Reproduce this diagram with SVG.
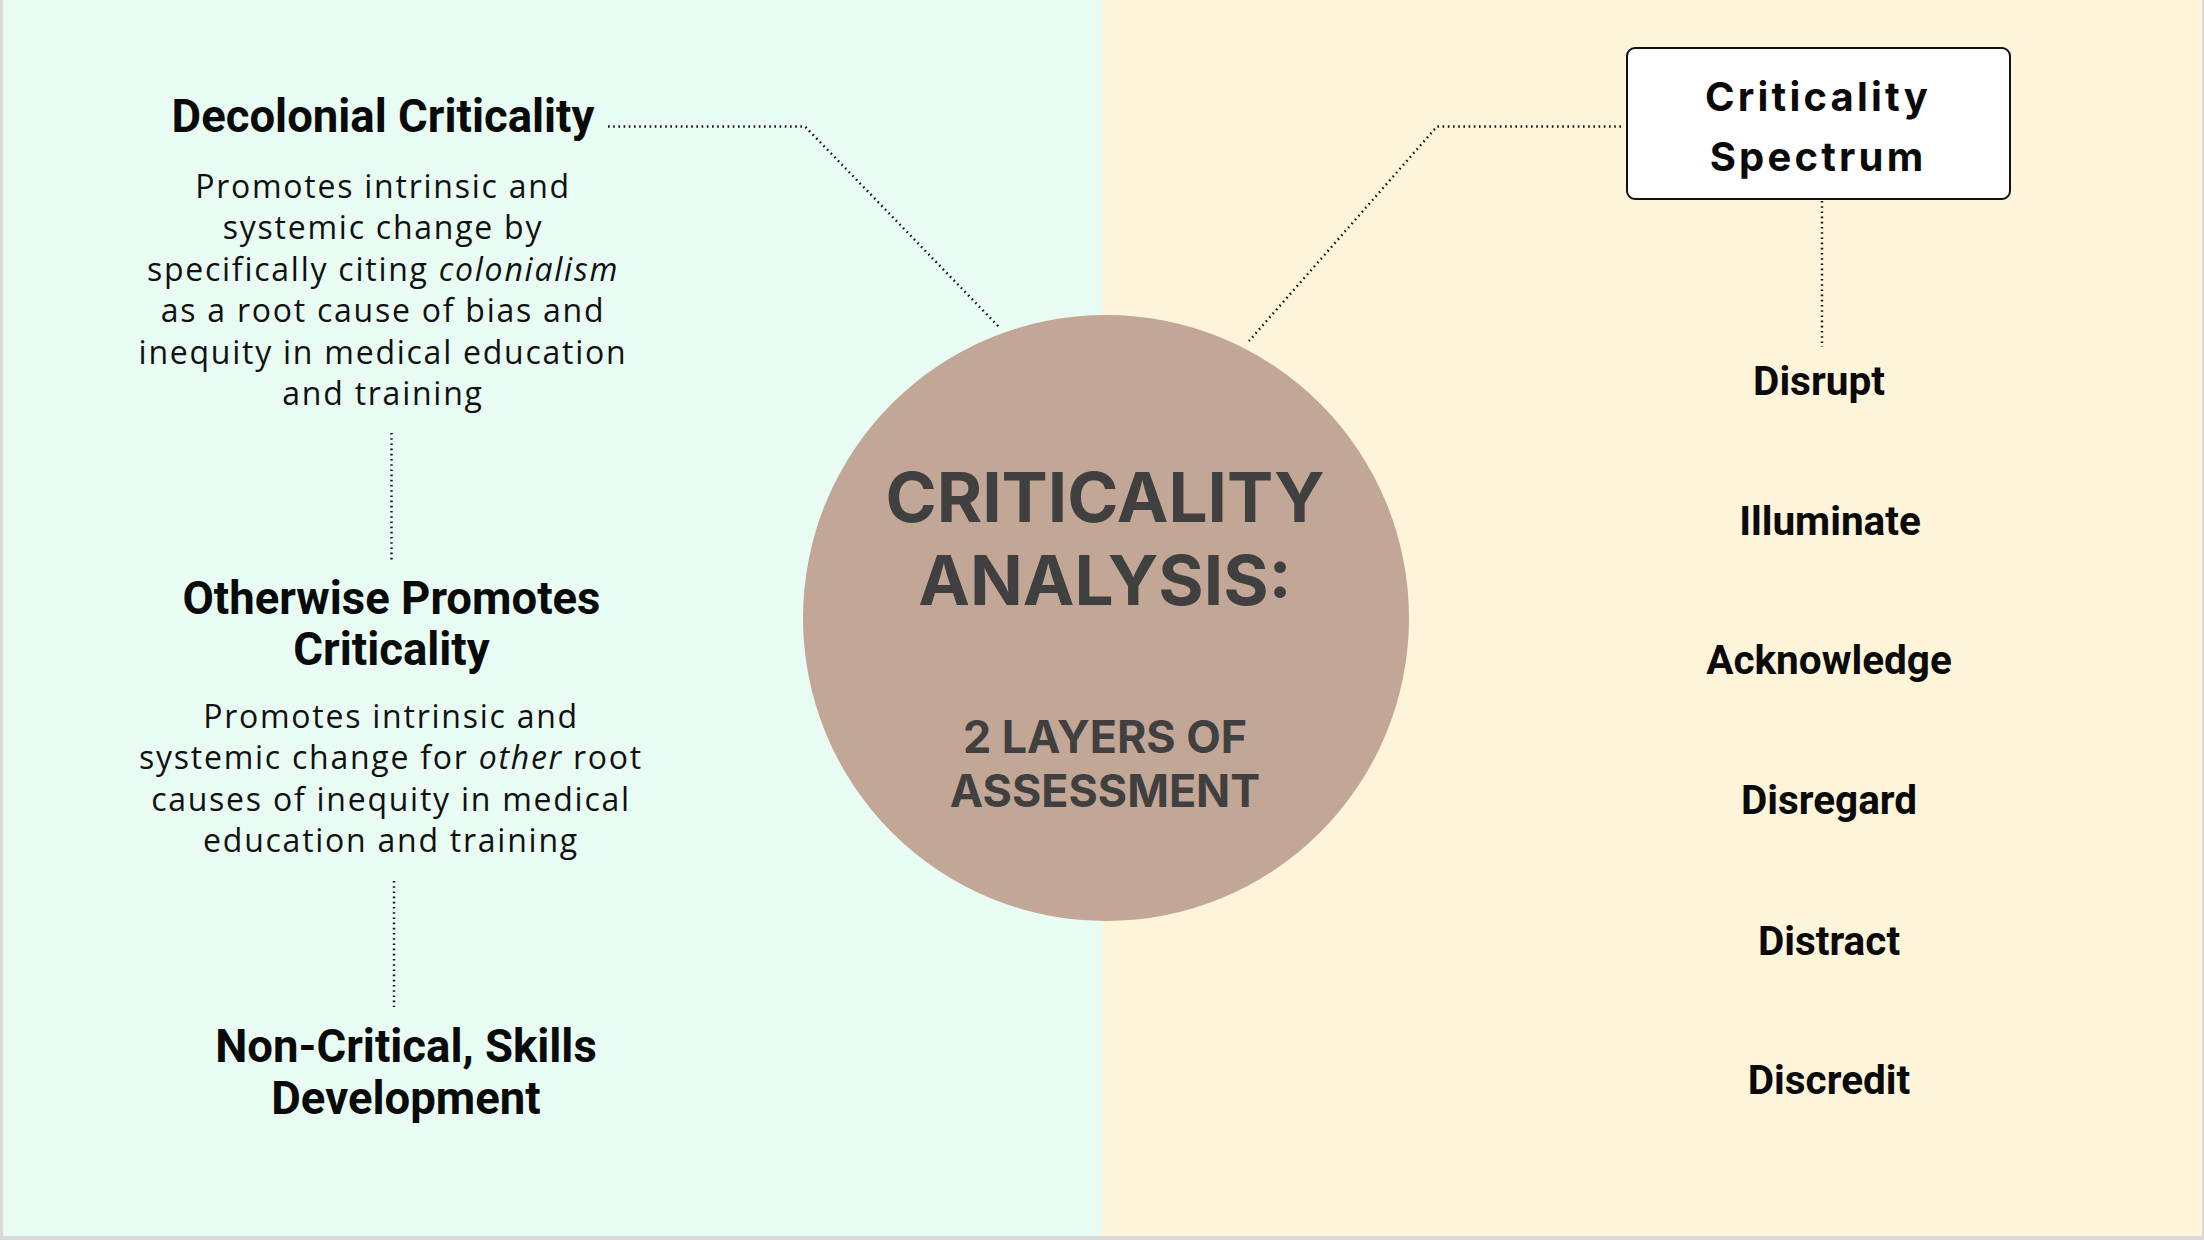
<svg xmlns="http://www.w3.org/2000/svg" width="2204" height="1240" viewBox="0 0 2204 1240">
<style>
.hd{font-family:Roboto,"Liberation Sans",sans-serif;font-weight:700;fill:#0a0a0a;text-anchor:middle;font-size:45.5px}
.bd{font-family:"Open Sans","Liberation Sans",sans-serif;font-weight:400;fill:#111;text-anchor:middle;font-size:32px;letter-spacing:1.75px}
.it{font-style:italic}
.ct{font-family:Inter,"Liberation Sans",sans-serif;font-weight:700;fill:#404040;text-anchor:middle}
.bx{font-family:Inter,"Liberation Sans",sans-serif;font-weight:700;fill:#0a0a0a;text-anchor:middle;font-size:40px;letter-spacing:3.2px}
.li{font-family:Roboto,"Liberation Sans",sans-serif;font-weight:700;fill:#0a0a0a;text-anchor:middle;font-size:40.5px}
.dot{fill:none;stroke:#111;stroke-width:2.4;stroke-dasharray:1.6 3.6}
</style>
<rect x="0" y="0" width="2204" height="1240" fill="#d9d9d9"/>
<rect x="3" y="0" width="1100" height="1236" fill="#e8fcf3"/>
<rect x="1102" y="0" width="1100" height="1236" fill="#fdf4d9"/>
<g id="connectors">
<polyline class="dot" points="608,126.5 805,126.5 1000,328"/>
<polyline class="dot" points="1621,126.5 1437,126.5 1249,341"/>
<line class="dot" x1="391.5" y1="433" x2="391.5" y2="561"/>
<line class="dot" x1="394" y1="881" x2="394" y2="1007"/>
<line class="dot" x1="1822" y1="201" x2="1822" y2="347"/>
</g>
<g id="center">
<circle cx="1106" cy="618" r="303" fill="#c2a696"/>
<text class="ct" x="1105" y="522" font-size="69.3">CRITICALITY</text>
<text class="ct" x="1105" y="605" font-size="69.3">ANALYSIS:</text>
<text class="ct" x="1105" y="753" font-size="44.8">2 LAYERS OF</text>
<text class="ct" x="1105" y="807" font-size="44.8">ASSESSMENT</text>
</g>
<g id="decolonial">
<text class="hd" x="383" y="132">Decolonial Criticality</text>
<text class="bd" x="383" y="198">Promotes intrinsic and</text>
<text class="bd" x="383" y="239">systemic change by</text>
<text class="bd" x="383" y="281">specifically citing <tspan class="it">colonialism</tspan></text>
<text class="bd" x="383" y="322">as a root cause of bias and</text>
<text class="bd" x="383" y="364">inequity in medical education</text>
<text class="bd" x="383" y="405">and training</text>
</g>
<g id="otherwise">
<text class="hd" x="391.5" y="614">Otherwise Promotes</text>
<text class="hd" x="391.5" y="665">Criticality</text>
<text class="bd" x="391" y="728">Promotes intrinsic and</text>
<text class="bd" x="391" y="769">systemic change for <tspan class="it">other</tspan> root</text>
<text class="bd" x="391" y="811">causes of inequity in medical</text>
<text class="bd" x="391" y="852">education and training</text>
</g>
<g id="noncritical">
<text class="hd" x="406" y="1062">Non-Critical, Skills</text>
<text class="hd" x="406" y="1114">Development</text>
</g>
<g id="spectrum">
<rect x="1627" y="48" width="383" height="151" rx="8" fill="#fff" stroke="#111" stroke-width="2"/>
<text class="bx" x="1818" y="111">Criticality</text>
<text class="bx" x="1818" y="171">Spectrum</text>
</g>
<g id="disrupt"><text class="li" x="1819" y="395">Disrupt</text></g>
<g id="illuminate"><text class="li" x="1830" y="535">Illuminate</text></g>
<g id="acknowledge"><text class="li" x="1829" y="674">Acknowledge</text></g>
<g id="disregard"><text class="li" x="1829" y="814">Disregard</text></g>
<g id="distract"><text class="li" x="1829" y="955">Distract</text></g>
<g id="discredit"><text class="li" x="1829" y="1094">Discredit</text></g>
</svg>
